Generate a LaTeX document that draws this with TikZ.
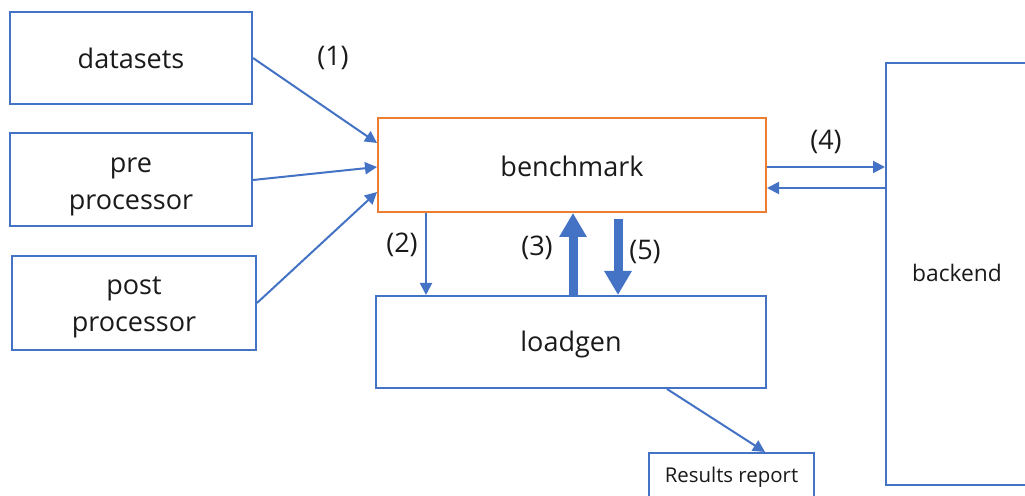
\documentclass[tikz,border=0pt]{standalone}
\usepackage{fontspec}
\setmainfont{Open Sans}
\usetikzlibrary{arrows.meta,calc}
\definecolor{boxblue}{HTML}{4472C4}
\definecolor{boxorange}{HTML}{ED7D31}
\definecolor{txt}{HTML}{1A1A1A}
\tikzset{
  box/.style={draw=boxblue, line width=1pt, rectangle, inner sep=0pt, align=center,
    text=txt, text depth=0pt, font=\fontsize{13.5}{18.4}\selectfont},
  flow/.style={draw=boxblue, line width=1pt, -{Triangle[length=6pt,width=6pt]}},
  bigflow/.style={draw=boxblue, line width=4.5pt, -{Triangle[length=12pt,width=13pt]}},
  tag/.style={text=txt, font=\fontsize{13.5}{16}\selectfont, inner sep=0pt}
}
\begin{document}
\begin{tikzpicture}[x=0.5pt,y=-0.5pt]
\useasboundingbox (0,0) rectangle (1025,496);
\clip (0,0) rectangle (1025,496);
\fill[white] (0,0) rectangle (1025,496);

% input boxes on the left
\node[box, minimum width=121pt, minimum height=46pt, text height=11pt] (datasets) at (131,58) {datasets};
\node[box, minimum width=121pt, minimum height=46.5pt, text height=29.8pt] (pre) at (131,180) {pre\\processor};
\node[box, minimum width=122pt, minimum height=47pt, text height=28.7pt] (post) at (134,303) {post\\processor};

% central boxes
\node[box, draw=boxorange, minimum width=194pt, minimum height=47pt, text height=12pt] (benchmark) at (572,165) {benchmark};
\node[box, minimum width=195pt, minimum height=46pt, text height=10pt] (loadgen) at (571,342) {loadgen};

% backend and report
\node[box, minimum width=71pt, minimum height=211pt, text height=8pt,
  font=\fontsize{11.4}{14}\selectfont] (backend) at (957,274) {backend};
\node[box, minimum width=82.5pt, minimum height=23.5pt, text height=6.2pt,
  font=\fontsize{10.2}{12}\selectfont] (report) at (731.5,476.5) {Results report};

% inputs into benchmark
\draw[flow] (datasets.east) -- ([yshift=11pt]benchmark.west);
\draw[flow] (pre.east) -- ([yshift=-1pt]benchmark.west);
\draw[flow] (post.east) -- ([yshift=-13.5pt]benchmark.west);
\node[tag] (l1) at (333,58) {(1)};

% benchmark <-> loadgen
\draw[flow] ([xshift=24.5pt]benchmark.south west) -- ([xshift=24.5pt]benchmark.south west |- loadgen.north);
\node[tag] (l2) at (402,245) {(2)};
\draw[bigflow] ([xshift=1pt]loadgen.north) -- ([xshift=1pt]loadgen.north |- benchmark.south);
\node[tag] (l3) at (537,248) {(3)};
\draw[bigflow] ([xshift=23pt,yshift=-3pt]benchmark.south) -- ([xshift=23pt]benchmark.south |- loadgen.north);
\node[tag] (l5) at (645,252) {(5)};

% benchmark <-> backend
\draw[flow] ([yshift=-1pt]benchmark.east) -- ([yshift=-1pt]benchmark.east -| backend.west);
\draw[flow] ([yshift=-11.5pt]benchmark.east -| backend.west) -- ([yshift=-11.5pt]benchmark.east);
\node[tag] (l4) at (826,142) {(4)};

% loadgen -> report
\draw[flow] ([xshift=146pt]loadgen.south west) -- ([xshift=16.75pt]report.north);
\end{tikzpicture}
\end{document}
